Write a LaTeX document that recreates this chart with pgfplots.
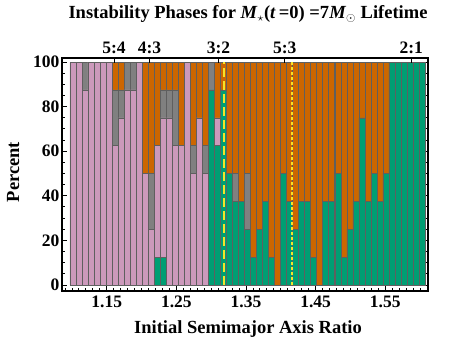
\documentclass[border=0pt]{standalone}
\usepackage{fontspec}
\setmainfont{Liberation Serif}
\usepackage{pgfplots}
\pgfplotsset{compat=1.18}
\usepackage{pgfplotstable}
\definecolor{cgreen}{RGB}{0,158,115}
\definecolor{cpink}{RGB}{204,153,187}
\definecolor{cgray}{RGB}{128,128,128}
\definecolor{corange}{RGB}{204,102,0}
\definecolor{cedge}{RGB}{95,95,95}
\definecolor{cyellow}{RGB}{245,228,40}
\pgfplotstableread{
x g p gr o
1.1014 0 100 0 0
1.1100 0 100 0 0
1.1187 0 87.5 12.5 0
1.1273 0 100 0 0
1.1360 0 100 0 0
1.1446 0 100 0 0
1.1533 0 100 0 0
1.1619 0 62.5 25 12.5
1.1706 0 75 12.5 12.5
1.1792 0 87.5 12.5 0
1.1879 0 87.5 12.5 0
1.1965 0 100 0 0
1.2051 0 50 0 50
1.2138 0 25 25 50
1.2224 12.5 50 0 37.5
1.2311 12.5 62.5 12.5 12.5
1.2397 0 75 12.5 12.5
1.2484 0 62.5 25 12.5
1.2570 0 62.5 0 37.5
1.2657 0 100 0 0
1.2743 0 50 12.5 37.5
1.2829 0 75 0 25
1.2916 0 50 12.5 37.5
1.3002 87.5 0 12.5 0
1.3089 62.5 12.5 0 25
1.3175 87.5 0 0 12.5
1.3262 50 0 0 50
1.3348 37.5 0 12.5 50
1.3435 37.5 0 0 62.5
1.3521 25 0 25 50
1.3608 12.5 0 0 87.5
1.3694 25 0 0 75
1.3780 37.5 0 0 62.5
1.3867 12.5 0 0 87.5
1.3953 0 0 0 100
1.4040 50 0 0 50
1.4126 37.5 0 0 62.5
1.4213 25 0 0 75
1.4299 37.5 0 0 62.5
1.4386 37.5 0 0 62.5
1.4472 12.5 0 0 87.5
1.4558 0 0 0 100
1.4645 37.5 0 0 62.5
1.4731 37.5 0 0 62.5
1.4818 50 0 0 50
1.4904 12.5 0 0 87.5
1.4991 25 0 0 75
1.5077 37.5 0 0 62.5
1.5164 75 0 0 25
1.5250 37.5 0 0 62.5
1.5337 50 0 0 50
1.5423 37.5 0 0 62.5
1.5509 50 0 0 50
1.5596 100 0 0 0
1.5682 100 0 0 0
1.5769 100 0 0 0
1.5855 100 0 0 0
1.5942 100 0 0 0
1.6028 100 0 0 0
}\data
\pgfplotsset{
  myaxis/.style={at={(62pt,52pt)}, anchor=south west, scale only axis,
    width=366pt, height=233pt,
    xmin=1.0857, xmax=1.6114, ymin=-2.7, ymax=101.8,
    tick align=inside, axis line style={line width=1.6pt},
    major tick length=5pt, minor tick length=3pt,
    every tick/.style={black, line width=0.9pt},
    ticklabel style={font=\fontsize{17.5}{17.5}\selectfont\bfseries},
    /pgf/number format/assume math mode=true},
}
\begin{document}
\begin{tikzpicture}
\path[use as bounding box] (0pt,0pt) rectangle (463pt,343pt);
\begin{axis}[myaxis,
  ybar stacked, bar width=0.00864,
  xtick={1.15,1.25,1.35,1.45,1.55},
  xticklabels={1.15,1.25,1.35,1.45,1.55},
  minor xtick={1.09,1.10,...,1.61},
  xtick pos=bottom,
  ytick={0,20,40,60,80,100}, minor y tick num=3,
  ytick pos=both, yticklabel pos=left,
  yticklabel style={xshift=1pt},
  xticklabel style={yshift=-1pt},
  every axis plot/.append style={draw=cedge, line width=0.5pt},
]
\addplot[fill=cgreen] table[x=x,y=g]{\data};
\addplot[fill=cpink] table[x=x,y=p]{\data};
\addplot[fill=cgray] table[x=x,y=gr]{\data};
\addplot[fill=corange] table[x=x,y=o]{\data};
\end{axis}
\begin{axis}[myaxis,
  axis x line*=top, axis y line=none,
  xtick={1.1604,1.2114,1.3104,1.4057,1.5874},
  xticklabels={5:4,4:3,3:2,5:3,2:1},
  xticklabel style={yshift=1pt},
]
\addplot[cyellow, line width=2.2pt, dash pattern=on 9pt off 4pt] coordinates {(1.318,0) (1.318,100)};
\addplot[cyellow, line width=2.2pt, dash pattern=on 3pt off 2pt] coordinates {(1.416,0) (1.416,100)};
\end{axis}
\node[anchor=base, font=\fontsize{18.5}{18.5}\selectfont\bfseries] at (248pt,324pt)
  {Instability Phases for \textit{M}$_{\star}$(\textit{t}\,=0) =7\textit{M}$_{\odot}$ Lifetime};
\node[anchor=base, font=\fontsize{18.5}{18.5}\selectfont\bfseries] at (248pt,10pt)
  {Initial Semimajor Axis Ratio};
\node[anchor=base, rotate=90, font=\fontsize{18.5}{18.5}\selectfont\bfseries] at (19pt,171pt)
  {Percent};
\end{tikzpicture}
\end{document}
